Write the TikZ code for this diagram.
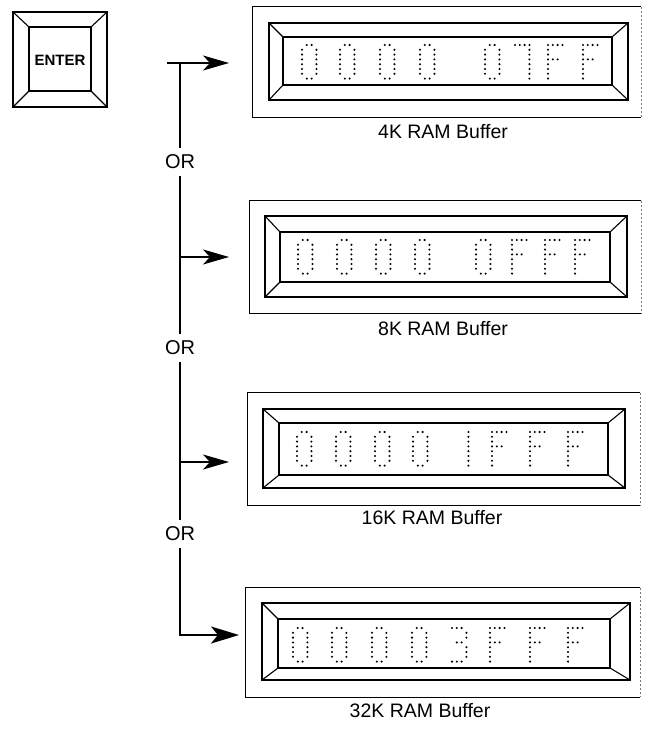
\documentclass[tikz,border=0pt]{standalone}
\usepackage{fontspec}
\setmainfont{Liberation Sans}
\usetikzlibrary{arrows.meta}
\tikzset{
 bev/.style={line width=1.1pt},
 frm/.style={line width=1.3pt},
 faint/.style={line width=0.6pt, dash pattern=on 2pt off 2pt, black!55},
 conn/.style={line width=1.5pt},
 bold conn/.style={line width=2.8pt},
 tip/.style={-{Stealth[length=26pt,width=15pt,inset=7pt]}},
 bigtip/.style={-{Stealth[length=28pt,width=17pt,inset=7pt]}},
 lbl/.style={font=\fontsize{19.5}{21}\selectfont, inner sep=0pt},
 ortxt/.style={font=\fontsize{20}{21}\selectfont, inner sep=0pt, minimum height=28pt, minimum width=30pt},
 framebox/.style={draw=none, inner sep=0pt},
}
% bevelled box: outer x1 y1 x2 y2, inner x1 y1 x2 y2
\newcommand{\bevelbox}[8]{%
 \draw[bev] (#1,#2) rectangle (#3,#4);
 \draw[bev] (#5,#6) rectangle (#7,#8);
 \draw[bev] (#1,#2)--(#5,#6) (#3,#2)--(#7,#6) (#3,#4)--(#7,#8) (#1,#4)--(#5,#8);}
% dot matrix glyphs (col/row)
\def\dmZero{1/0,2/0,0/1,3/1,0/2,3/2,0/3,3/3,0/4,3/4,0/5,3/5,0/6,3/6,1/7,2/7}
\def\dmEff{0/0,1/0,2/0,3/0,0/1,0/2,0/3,1/3,2/3,0/4,0/5,0/6,0/7}
\def\dmSeven{0/0,1/0,2/0,3/0,3/1,3/2,3/3,3/4,3/5,3/6,3/7}
\def\dmOne{3/0,3/1,3/2,3/3,3/4,3/5,3/6,3/7}
\def\dmThree{0/0,1/0,2/0,3/1,3/2,1/3,2/3,3/4,3/5,3/6,0/7,1/7,2/7}
\newcommand{\dmg}[3]{\foreach \c/\r in #3 {\fill ({#1+\c*4.8},{#2+\r*4.8}) circle (1.15pt);}}
% frame with faint right edge
\newcommand{\dispframe}[1]{%
 \draw[frm] (#1.north east) -- (#1.north west) -- (#1.south west) -- (#1.south east);
 \draw[faint] (#1.north east) -- (#1.south east);}
\begin{document}
\begin{tikzpicture}[x=1pt,y=-1pt]
\useasboundingbox (0,0) rectangle (646,730);

% ENTER key
\bevelbox{13}{12}{107}{107}{29}{27}{91}{91}
\node[font=\bfseries\fontsize{15}{17}\selectfont, inner sep=0pt] (enter) at (60,60) {ENTER};

% display frames
\node[framebox, minimum width=388pt, minimum height=110pt] (d1) at (447,62) {};
\node[framebox, minimum width=391pt, minimum height=112pt] (d2) at (445.5,257) {};
\node[framebox, minimum width=392pt, minimum height=112pt] (d3) at (444,449) {};
\node[framebox, minimum width=394pt, minimum height=109pt] (d4) at (443,642.5) {};
\dispframe{d1}\dispframe{d2}\dispframe{d3}\dispframe{d4}

\bevelbox{269}{23}{628}{100}{283}{37}{612}{85}
\bevelbox{265}{216}{627}{297}{280}{232}{610}{282}
\bevelbox{263}{409}{625}{488}{279}{423}{608}{475}
\bevelbox{262}{603}{630}{680}{278}{619}{610}{668}

% digits display 1: 0000 07FF
\dmg{302}{45}{\dmZero}\dmg{340}{45}{\dmZero}\dmg{380}{45}{\dmZero}\dmg{420}{45}{\dmZero}
\dmg{485}{45}{\dmZero}\dmg{515}{45}{\dmSeven}\dmg{548}{45}{\dmEff}\dmg{583}{45}{\dmEff}
% display 2: 0000 0FFF
\dmg{298}{240}{\dmZero}\dmg{337}{240}{\dmZero}\dmg{376}{240}{\dmZero}\dmg{415}{240}{\dmZero}
\dmg{476}{240}{\dmZero}\dmg{512}{240}{\dmEff}\dmg{545}{240}{\dmEff}\dmg{575}{240}{\dmEff}
% display 3: 0000 1FFF
\dmg{297}{432}{\dmZero}\dmg{336}{432}{\dmZero}\dmg{375}{432}{\dmZero}\dmg{413}{432}{\dmZero}
\dmg{454}{432}{\dmOne}\dmg{492}{432}{\dmEff}\dmg{530}{432}{\dmEff}\dmg{568}{432}{\dmEff}
% display 4: 00003FFF
\dmg{293}{628}{\dmZero}\dmg{332}{628}{\dmZero}\dmg{372}{628}{\dmZero}\dmg{412}{628}{\dmZero}
\dmg{452}{628}{\dmThree}\dmg{490}{628}{\dmEff}\dmg{530}{628}{\dmEff}\dmg{568}{628}{\dmEff}

% labels
\node[lbl] (l1) at (443,132) {4K RAM Buffer};
\node[lbl] (l2) at (443,329) {8K RAM Buffer};
\node[lbl] (l3) at (432,518) {16K RAM Buffer};
\node[lbl] (l4) at (420,711) {32K RAM Buffer};

% OR labels
\node[ortxt] (or1) at (180,162) {OR};
\node[ortxt] (or2) at (180,348) {OR};
\node[ortxt] (or3) at (180,534) {OR};

% connector coordinates
\coordinate (s0) at (167,63);
\coordinate (t0) at (180,63);
\coordinate (a1) at (229,63);
\coordinate (b2) at (180,257);
\coordinate (a2) at (229,257);
\coordinate (b3) at (180,462);
\coordinate (a3) at (229,462);
\coordinate (b4) at (180,635);
\coordinate (a4) at (239,635);

\draw[conn,tip] (s0) -- (a1);
\draw[conn] (t0) -- (or1.north);
\draw[conn] (or1.south) -- (or2.north);
\draw[conn] (or2.south) -- (or3.north);
\draw[conn,tip] (b2) -- (a2);
\draw[conn,tip] (b3) -- (a3);
\draw[bold conn,line join=miter,bigtip] (or3.south) -- (b4) -- (a4);
\end{tikzpicture}
\end{document}
